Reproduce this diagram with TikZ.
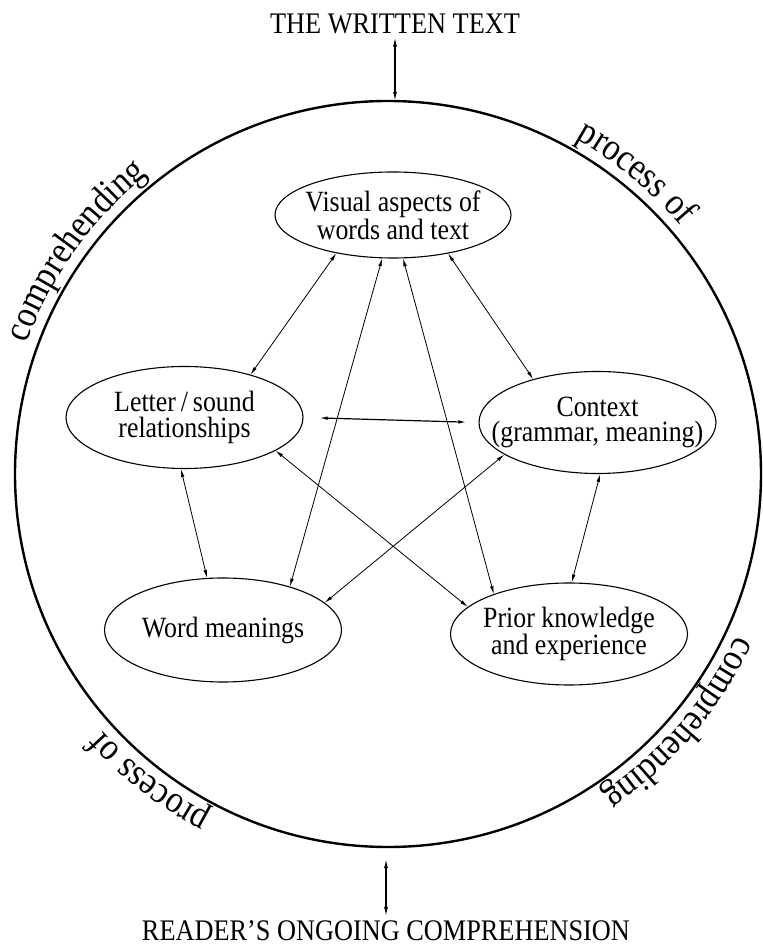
\documentclass[tikz,border=0pt]{standalone}
\usepackage{fontspec}
\setmainfont{Liberation Serif}[FakeStretch=0.88]
\usetikzlibrary{shapes.geometric,arrows.meta,decorations.text}
\newcommand\bubblefont{\fontsize{29.5}{25.5}\selectfont}
\newcommand\capsfont{\fontsize{30}{30}\selectfont}
\newcommand\curvefont{\fontsize{38.5}{38.5}\selectfont}
\begin{document}
\begin{tikzpicture}[x=1bp,y=1bp,
  bubble/.style={draw, ellipse, line width=1.1bp, minimum width=237bp, minimum height=102bp, inner sep=0pt},
  txt/.style={inner sep=0pt, align=center, font=\bubblefont},
  link/.style={line width=0.8bp, {Latex[length=8bp,width=3.6bp]}-{Latex[length=8bp,width=3.6bp]}},
  vert/.style={line width=1.1bp, {Latex[length=9bp,width=4bp]}-{Latex[length=9bp,width=4bp]}},
  outer/.style={inner sep=0pt, font=\capsfont, anchor=base}
]
\useasboundingbox (0,0) rectangle (763,948);

% big ring
\node[draw, circle, line width=2.4bp, minimum size=746bp, inner sep=0pt] (ring) at (388,474) {};

% curved labels (clockwise, outside)
\path[decorate, decoration={text along path, text align=center, text={|\curvefont|comprehending}}]
  ([shift={(174.4:384)}]ring.center) arc[start angle=174.4, end angle=114.4, radius=384];
\path[decorate, decoration={text along path, text align=center, text={|\curvefont|process of}}]
  ([shift={(80.5:384)}]ring.center) arc[start angle=80.5, end angle=20.5, radius=384];
\path[decorate, decoration={text along path, text align=center, text={|\curvefont|comprehending}}]
  ([shift={(-10.6:384)}]ring.center) arc[start angle=-10.6, end angle=-70.6, radius=384];
\path[decorate, decoration={text along path, text align=center, text={|\curvefont|process of}}]
  ([shift={(-97.8:384)}]ring.center) arc[start angle=-97.8, end angle=-157.8, radius=384];

% top and bottom labels
\node[outer] (top) at (395,914) {THE WRITTEN TEXT};
\node[outer] (bot) at (386,7) {READER'S ONGOING COMPREHENSION};
\draw[vert, shorten <=3bp, shorten >=-1bp] (top.south) -- (top.south |- ring.north);
\draw[vert, shorten <=5bp, shorten >=11bp] (bot.north) -- (bot.north |- ring.south);

% ellipses
\node[bubble, minimum width=236bp, minimum height=86bp] (vis) at (393,733) {};
\node[bubble] (ls) at (184.5,530.5) {};
\node[bubble] (ctx) at (597.5,525.5) {};
\node[bubble, minimum height=104bp] (wm) at (223,318) {};
\node[bubble] (pk) at (569,314) {};

\node[txt] (vis-t) at (vis.center) {Visual aspects of\\words and text};
\node[txt] (ls-t) at (ls.center) {Letter\,/\,sound\\relationships};
\node[txt] (ctx-t) at (ctx.center) {Context\\(grammar, meaning)};
\node[txt] (wm-t) at (wm.center) {Word meanings};
\node[txt] (pk-t) at (pk.center) {Prior knowledge\\and experience};

% connectors
\draw[link] (vis.214) -- (ls.33);
\draw[link] (vis.256) -- (wm.33);
\draw[link] (vis.283) -- (pk.152);
\draw[link] (vis.325) -- (ctx.146);
\draw[link, line width=1.2bp, shorten <=16bp, shorten >=12bp] (ls.east) -- (ctx.west);
\draw[link] (ls.266) -- (wm.107);
\draw[link] (ls.340) -- (pk.165);
\draw[link] (ctx.199) -- (wm.15);
\draw[link] (ctx.273) -- (pk.87);
\end{tikzpicture}
\end{document}
